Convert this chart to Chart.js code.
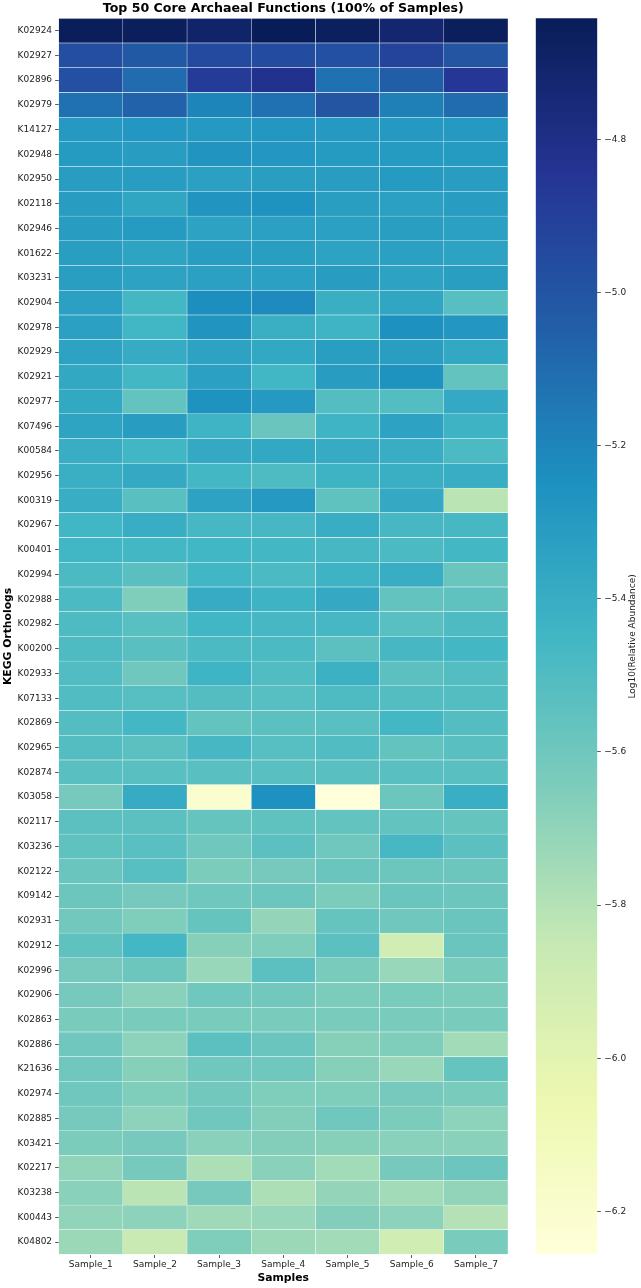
<!DOCTYPE html>
<html>
<head>
<meta charset="utf-8">
<script src="https://cdn.jsdelivr.net/npm/chart.js@4.4.0/dist/chart.umd.min.js"></script>
<style>
  html, body { margin: 0; padding: 0; background: #fff; }
  #wrap { position: relative; width: 641px; height: 1288px; }
  canvas { position: absolute; left: 0; top: 0; }
</style>
</head>
<body>
<div id="wrap">
  <canvas id="heat" width="641" height="1288"></canvas>
  <canvas id="cbar" width="641" height="1288"></canvas>
</div>
<script>
// KEGG orthologs, top to bottom
const kos = ['K02924','K02927','K02896','K02979','K14127','K02948','K02950','K02118','K02946','K01622',
  'K03231','K02904','K02978','K02929','K02921','K02977','K07496','K00584','K02956','K00319',
  'K02967','K00401','K02994','K02988','K02982','K00200','K02933','K07133','K02869','K02965',
  'K02874','K03058','K02117','K03236','K02122','K09142','K02931','K02912','K02996','K02906',
  'K02863','K02886','K21636','K02974','K02885','K03421','K02217','K03238','K00443','K04802'];
const samples = ['Sample_1','Sample_2','Sample_3','Sample_4','Sample_5','Sample_6','Sample_7'];

// log10(relative abundance), one array per sample, same order as kos
const sample_1 = [-4.65,-4.97,-4.98,-5.12,-5.29,-5.30,-5.31,-5.31,-5.31,-5.32,
  -5.32,-5.33,-5.33,-5.34,-5.37,-5.37,-5.35,-5.40,-5.41,-5.40,
  -5.45,-5.45,-5.48,-5.48,-5.49,-5.49,-5.50,-5.50,-5.51,-5.51,
  -5.53,-5.62,-5.54,-5.55,-5.58,-5.59,-5.61,-5.55,-5.62,-5.62,
  -5.63,-5.60,-5.60,-5.60,-5.62,-5.64,-5.70,-5.68,-5.70,-5.73];
const sample_2 = [-4.66,-5.02,-5.10,-5.06,-5.28,-5.31,-5.31,-5.36,-5.30,-5.35,
  -5.34,-5.46,-5.45,-5.39,-5.46,-5.56,-5.31,-5.45,-5.38,-5.53,
  -5.40,-5.46,-5.53,-5.65,-5.53,-5.53,-5.60,-5.52,-5.46,-5.54,
  -5.53,-5.39,-5.54,-5.53,-5.52,-5.62,-5.65,-5.46,-5.59,-5.68,
  -5.63,-5.69,-5.67,-5.65,-5.69,-5.62,-5.62,-5.82,-5.69,-5.87];
const sample_3 = [-4.70,-4.95,-4.88,-5.20,-5.29,-5.27,-5.33,-5.27,-5.34,-5.31,
  -5.33,-5.24,-5.27,-5.34,-5.33,-5.26,-5.44,-5.38,-5.46,-5.34,
  -5.47,-5.45,-5.45,-5.39,-5.45,-5.48,-5.44,-5.51,-5.56,-5.47,
  -5.53,-6.20,-5.57,-5.60,-5.64,-5.60,-5.57,-5.67,-5.72,-5.60,
  -5.63,-5.54,-5.60,-5.61,-5.60,-5.68,-5.78,-5.62,-5.74,-5.65];
const sample_4 = [-4.642,-4.96,-4.82,-5.12,-5.28,-5.28,-5.32,-5.26,-5.33,-5.32,
  -5.33,-5.22,-5.41,-5.37,-5.45,-5.29,-5.58,-5.37,-5.49,-5.29,
  -5.47,-5.46,-5.48,-5.43,-5.47,-5.48,-5.50,-5.52,-5.54,-5.52,
  -5.53,-5.25,-5.55,-5.54,-5.62,-5.59,-5.71,-5.65,-5.54,-5.61,
  -5.63,-5.58,-5.60,-5.65,-5.66,-5.66,-5.68,-5.78,-5.72,-5.73];
const sample_5 = [-4.67,-4.98,-5.12,-5.00,-5.29,-5.30,-5.31,-5.32,-5.33,-5.34,
  -5.31,-5.41,-5.44,-5.32,-5.31,-5.51,-5.44,-5.39,-5.43,-5.55,
  -5.40,-5.47,-5.43,-5.38,-5.47,-5.54,-5.42,-5.49,-5.53,-5.50,
  -5.53,-6.256,-5.56,-5.60,-5.58,-5.64,-5.57,-5.54,-5.63,-5.64,
  -5.63,-5.67,-5.67,-5.65,-5.60,-5.67,-5.75,-5.71,-5.66,-5.75];
const sample_6 = [-4.72,-4.92,-5.04,-5.18,-5.29,-5.30,-5.30,-5.33,-5.32,-5.33,
  -5.34,-5.36,-5.25,-5.32,-5.26,-5.51,-5.34,-5.40,-5.41,-5.38,
  -5.47,-5.48,-5.40,-5.56,-5.53,-5.47,-5.54,-5.51,-5.46,-5.56,
  -5.53,-5.59,-5.56,-5.47,-5.59,-5.58,-5.60,-5.90,-5.72,-5.63,
  -5.63,-5.65,-5.72,-5.62,-5.64,-5.68,-5.62,-5.75,-5.69,-5.90];
const sample_7 = [-4.66,-5.00,-4.86,-5.10,-5.29,-5.30,-5.31,-5.31,-5.33,-5.34,
  -5.32,-5.52,-5.28,-5.37,-5.56,-5.38,-5.43,-5.48,-5.40,-5.82,
  -5.47,-5.46,-5.58,-5.55,-5.49,-5.46,-5.51,-5.51,-5.51,-5.53,
  -5.53,-5.41,-5.57,-5.54,-5.59,-5.59,-5.58,-5.58,-5.63,-5.64,
  -5.63,-5.75,-5.57,-5.63,-5.69,-5.68,-5.59,-5.70,-5.80,-5.63];

const cbarTicks = [-6.2, -6.0, -5.8, -5.6, -5.4, -5.2, -5.0, -4.8];

const columns = [sample_1, sample_2, sample_3, sample_4, sample_5, sample_6, sample_7];
const allVals = columns.flat();
const vmin = Math.min(...allVals);
const vmax = Math.max(...allVals);

// matplotlib YlGnBu
const ylgnbu = ['#ffffd9','#edf8b1','#c7e9b4','#7fcdbb','#41b6c4','#1d91c0','#225ea8','#253494','#081d58'];
const rgb = ylgnbu.map(h => [1, 3, 5].map(i => parseInt(h.substr(i, 2), 16)));
function cmap(v) {
  let t = (v - vmin) / (vmax - vmin);
  t = Math.max(0, Math.min(1, t)) * 8;
  const i = Math.min(7, Math.floor(t));
  const f = t - i;
  const c = rgb[i].map((a, k) => Math.round(a + (rgb[i + 1][k] - a) * f));
  return 'rgb(' + c.join(',') + ')';
}

const FONT = 'DejaVu Sans';
const textCol = '#222';

new Chart(document.getElementById('heat'), {
  type: 'bar',
  data: {
    labels: kos,
    datasets: columns.map((col, j) => ({
      label: samples[j],
      data: col.map(() => 1),
      backgroundColor: ctx => cmap(col[ctx.dataIndex]),
      borderColor: 'rgba(255,255,255,0.75)',
      borderWidth: 0.5,
      borderSkipped: false,
      barPercentage: 1,
      categoryPercentage: 1
    }))
  },
  options: {
    indexAxis: 'y',
    responsive: false,
    animation: false,
    layout: { padding: { left: 0, right: 133, top: 0, bottom: 0 } },
    plugins: {
      legend: { display: false },
      tooltip: { enabled: false },
      title: {
        display: true,
        text: 'Top 50 Core Archaeal Functions (100% of Samples)',
        fullSize: false,
        color: '#000',
        font: { family: FONT, size: 12.6, weight: 'bold' },
        padding: { top: 1.5, bottom: 1.7 }
      }
    },
    scales: {
      y: {
        type: 'category',
        stacked: true,
        afterFit: s => { s.width = 58.6; },
        grid: { display: true, drawOnChartArea: false, offset: false, tickLength: 3.5, color: '#333', lineWidth: 0.8 },
        border: { display: false },
        ticks: { color: textCol, font: { family: FONT, size: 9 }, padding: 3, autoSkip: false },
        title: { display: true, text: 'KEGG Orthologs', color: '#000',
          font: { family: FONT, size: 10.8, weight: 'bold' }, padding: { top: 1.8, bottom: 0 } }
      },
      x: {
        type: 'linear',
        stacked: true,
        min: 0,
        max: samples.length,
        afterFit: s => { s.height = 33.5; },
        afterBuildTicks: s => { s.ticks = samples.map((_, i) => ({ value: i + 0.5 })); },
        grid: { display: true, drawOnChartArea: false, tickLength: 3.5, color: '#333', lineWidth: 0.8 },
        border: { display: false },
        ticks: { color: textCol, font: { family: FONT, size: 9 }, padding: 1, maxRotation: 0, autoSkip: false,
          callback: v => samples[Math.floor(v)] },
        title: { display: true, text: 'Samples', color: '#000',
          font: { family: FONT, size: 10.8, weight: 'bold' }, padding: { top: 0, bottom: 3.5 } }
      }
    }
  }
});

const cbarLabel = {
  id: 'cbarLabel',
  afterDraw(chart) {
    const c = chart.ctx;
    c.save();
    c.font = '9px "' + FONT + '"';
    c.fillStyle = textCol;
    c.translate(632.7, 636.4);
    c.rotate(-Math.PI / 2);
    c.textAlign = 'center';
    c.textBaseline = 'middle';
    c.fillText('Log10(Relative Abundance)', 0, 0);
    c.restore();
  }
};

new Chart(document.getElementById('cbar'), {
  type: 'bar',
  data: {
    labels: ['cbar'],
    datasets: [{
      data: [[vmin, vmax]],
      backgroundColor: ctx => {
        const area = ctx.chart.chartArea;
        if (!area) return null;
        const g = ctx.chart.ctx.createLinearGradient(0, area.bottom, 0, area.top);
        ylgnbu.forEach((c, i) => g.addColorStop(i / 8, c));
        return g;
      },
      borderWidth: 0,
      barPercentage: 1,
      categoryPercentage: 1
    }]
  },
  options: {
    responsive: false,
    animation: false,
    layout: { padding: { left: 535.7, right: 0, top: 18.3, bottom: 33.7 } },
    plugins: { legend: { display: false }, tooltip: { enabled: false } },
    scales: {
      x: { display: false },
      y: {
        position: 'right',
        min: vmin,
        max: vmax,
        afterFit: s => { s.width = 43.7; },
        afterBuildTicks: s => { s.ticks = cbarTicks.map(v => ({ value: v })); },
        grid: { display: true, drawOnChartArea: false, tickLength: 3.5, color: '#333', lineWidth: 0.8 },
        border: { display: false },
        ticks: { color: textCol, font: { family: FONT, size: 9 }, padding: 3.5,
          callback: v => v.toFixed(1).replace('-', '\u2212') }
      }
    }
  },
  plugins: [cbarLabel]
});
</script>
</body>
</html>
